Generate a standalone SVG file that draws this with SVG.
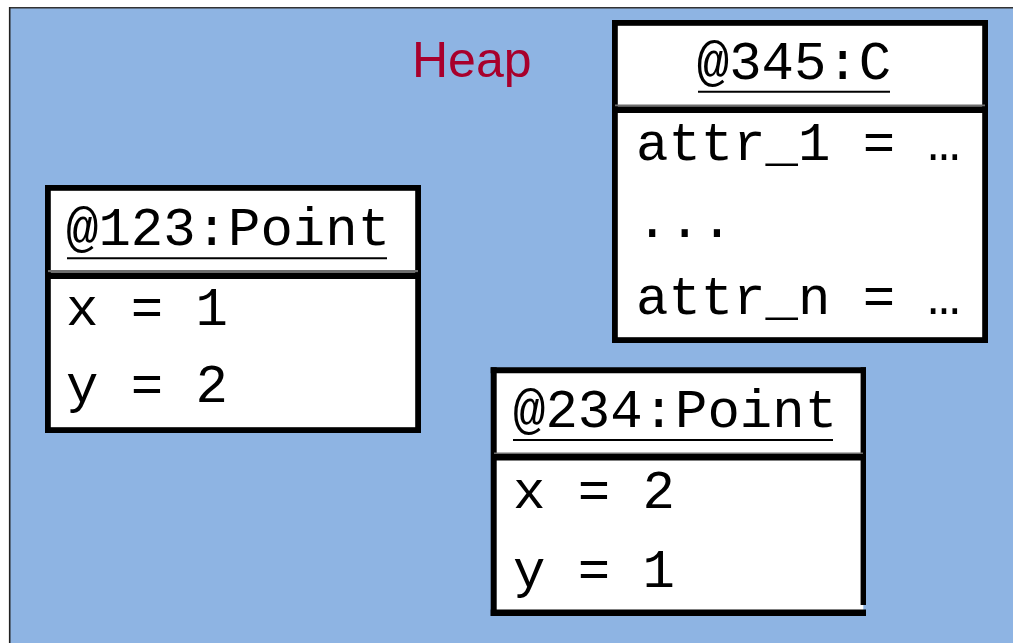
<svg xmlns="http://www.w3.org/2000/svg" width="1014" height="643" viewBox="0 0 1014 643">
<style>
.box{fill:#ffffff;stroke:#000000;stroke-width:5.8}
.t{font-family:"Liberation Mono","Courier New",monospace;font-size:54px;fill:#000000}
.ul{stroke:#000000;stroke-width:2}
.sep1{stroke:#6e6e6e;stroke-width:2.2}
.sep2{stroke:#000000;stroke-width:6.4}
</style>
<rect x="0" y="0" width="1014" height="643" fill="#ffffff"/>
<rect x="9" y="7" width="1004" height="636" fill="#8eb4e3"/>
<line x1="9" y1="7.7" x2="1013" y2="7.7" stroke="#333333" stroke-width="1.4"/>
<line x1="9.7" y1="7" x2="9.7" y2="643" stroke="#222222" stroke-width="1.6"/>
<text x="412" y="77" font-family="'Liberation Sans',Arial,sans-serif" font-size="50" fill="#a8002c">Heap</text>
<g id="node-c">
<rect class="box" x="614.9" y="22.9" width="370.2" height="317.2"/>
<line class="sep1" x1="615" y1="105.5" x2="985" y2="105.5"/>
<line class="sep2" x1="615" y1="109.8" x2="985" y2="109.8"/>
<text class="t" x="794" y="79" text-anchor="middle">@345:C</text>
<line class="ul" x1="698" y1="91.7" x2="890" y2="91.7"/>
<text class="t" x="636" y="160">attr_1 = …</text>
<text class="t" x="636" y="237">...</text>
<text class="t" x="636" y="314">attr_n = …</text>
</g>
<g id="node-123">
<rect class="box" x="47.9" y="187.9" width="370.2" height="242.2"/>
<line class="sep1" x1="48" y1="271.2" x2="418" y2="271.2"/>
<line class="sep2" x1="48" y1="275.7" x2="418" y2="275.7"/>
<text class="t" x="66" y="245">@123:Point</text>
<line class="ul" x1="67" y1="258.3" x2="387" y2="258.3"/>
<text class="t" x="66" y="325">x = 1</text>
<text class="t" x="66" y="402">y = 2</text>
</g>
<g id="node-234">
<rect x="493.7" y="370.3" width="369.6" height="242.7" fill="#ffffff"/>
<line x1="490.7" y1="370.3" x2="866" y2="370.3" stroke="#000" stroke-width="6"/>
<line x1="493.7" y1="367.3" x2="493.7" y2="616" stroke="#000" stroke-width="6"/>
<line x1="863.3" y1="367.3" x2="863.3" y2="605" stroke="#000" stroke-width="5.4"/>
<line x1="490.7" y1="612.7" x2="866" y2="612.7" stroke="#000" stroke-width="6.6"/>
<line class="sep1" x1="494" y1="453.7" x2="863" y2="453.7"/>
<line class="sep2" x1="494" y1="457.3" x2="863" y2="457.3"/>
<text class="t" x="513" y="427">@234:Point</text>
<line class="ul" x1="513" y1="440" x2="833" y2="440"/>
<text class="t" x="513" y="508">x = 2</text>
<text class="t" x="513" y="587">y = 1</text>
</g>
<g id="connectors"></g>
</svg>
